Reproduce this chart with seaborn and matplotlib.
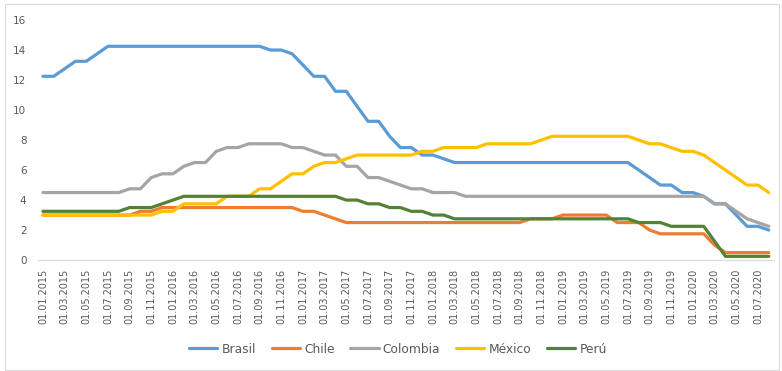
import pandas as pd
import matplotlib
matplotlib.use("Agg")
import matplotlib.pyplot as plt
import seaborn as sns
from matplotlib.patches import Rectangle
from matplotlib.lines import Line2D

# meses (primer día de cada mes)
months = pd.date_range("2015-01-01", "2020-08-01", freq="MS")
month_labels = [d.strftime("%d.%m.%Y") for d in months]

brasil = [12.25, 12.25, 12.75, 13.25, 13.25, 13.75, 14.25, 14.25, 14.25, 14.25, 14.25, 14.25,
          14.25, 14.25, 14.25, 14.25, 14.25, 14.25, 14.25, 14.25, 14.25, 14.0, 14.0, 13.75,
          13.0, 12.25, 12.25, 11.25, 11.25, 10.25, 9.25, 9.25, 8.25, 7.5, 7.5, 7.0,
          7.0, 6.75, 6.5, 6.5, 6.5, 6.5, 6.5, 6.5, 6.5, 6.5, 6.5, 6.5,
          6.5, 6.5, 6.5, 6.5, 6.5, 6.5, 6.5, 6.0, 5.5, 5.0, 5.0, 4.5,
          4.5, 4.25, 3.75, 3.75, 3.0, 2.25, 2.25, 2.0]

chile = [3.0, 3.0, 3.0, 3.0, 3.0, 3.0, 3.0, 3.0, 3.0, 3.25, 3.25, 3.5,
         3.5, 3.5, 3.5, 3.5, 3.5, 3.5, 3.5, 3.5, 3.5, 3.5, 3.5, 3.5,
         3.25, 3.25, 3.0, 2.75, 2.5, 2.5, 2.5, 2.5, 2.5, 2.5, 2.5, 2.5,
         2.5, 2.5, 2.5, 2.5, 2.5, 2.5, 2.5, 2.5, 2.5, 2.75, 2.75, 2.75,
         3.0, 3.0, 3.0, 3.0, 3.0, 2.5, 2.5, 2.5, 2.0, 1.75, 1.75, 1.75,
         1.75, 1.75, 1.0, 0.5, 0.5, 0.5, 0.5, 0.5]

colombia = [4.5, 4.5, 4.5, 4.5, 4.5, 4.5, 4.5, 4.5, 4.75, 4.75, 5.5, 5.75,
            5.75, 6.25, 6.5, 6.5, 7.25, 7.5, 7.5, 7.75, 7.75, 7.75, 7.75, 7.5,
            7.5, 7.25, 7.0, 7.0, 6.25, 6.25, 5.5, 5.5, 5.25, 5.0, 4.75, 4.75,
            4.5, 4.5, 4.5, 4.25, 4.25, 4.25, 4.25, 4.25, 4.25, 4.25, 4.25, 4.25,
            4.25, 4.25, 4.25, 4.25, 4.25, 4.25, 4.25, 4.25, 4.25, 4.25, 4.25, 4.25,
            4.25, 4.25, 3.75, 3.75, 3.25, 2.75, 2.5, 2.25]

mexico = [3.0, 3.0, 3.0, 3.0, 3.0, 3.0, 3.0, 3.0, 3.0, 3.0, 3.0, 3.25,
          3.25, 3.75, 3.75, 3.75, 3.75, 4.25, 4.25, 4.25, 4.75, 4.75, 5.25, 5.75,
          5.75, 6.25, 6.5, 6.5, 6.75, 7.0, 7.0, 7.0, 7.0, 7.0, 7.0, 7.25,
          7.25, 7.5, 7.5, 7.5, 7.5, 7.75, 7.75, 7.75, 7.75, 7.75, 8.0, 8.25,
          8.25, 8.25, 8.25, 8.25, 8.25, 8.25, 8.25, 8.0, 7.75, 7.75, 7.5, 7.25,
          7.25, 7.0, 6.5, 6.0, 5.5, 5.0, 5.0, 4.5]

peru = [3.25, 3.25, 3.25, 3.25, 3.25, 3.25, 3.25, 3.25, 3.5, 3.5, 3.5, 3.75,
        4.0, 4.25, 4.25, 4.25, 4.25, 4.25, 4.25, 4.25, 4.25, 4.25, 4.25, 4.25,
        4.25, 4.25, 4.25, 4.25, 4.0, 4.0, 3.75, 3.75, 3.5, 3.5, 3.25, 3.25,
        3.0, 3.0, 2.75, 2.75, 2.75, 2.75, 2.75, 2.75, 2.75, 2.75, 2.75, 2.75,
        2.75, 2.75, 2.75, 2.75, 2.75, 2.75, 2.75, 2.5, 2.5, 2.5, 2.25, 2.25,
        2.25, 2.25, 1.25, 0.25, 0.25, 0.25, 0.25, 0.25]

countries = ["Brasil", "Chile", "Colombia", "México", "Perú"]
colors = ["#5B9BD5", "#ED7D31", "#A5A5A5", "#FFC000", "#548235"]

# tabla en formato largo para seaborn
series = [brasil, chile, colombia, mexico, peru]
frames = []
for name, vals in zip(countries, series):
    frames.append(pd.DataFrame({"pos": range(len(vals)), "tasa": vals, "pais": name}))
df = pd.concat(frames, ignore_index=True)

sns.set_style("white")
plt.rcParams["font.family"] = ["DejaVu Sans"]

fig = plt.figure(figsize=(7.82, 3.71), dpi=100)
ax = fig.add_axes([0.048, 0.299, 0.942, 0.647])

sns.lineplot(data=df, x="pos", y="tasa", hue="pais", palette=colors,
             hue_order=countries, linewidth=2.3, ax=ax, legend=False)

n = len(months)
ax.set_xlim(-0.5, n - 0.5)
ax.set_ylim(0, 16)
ax.set_yticks(range(0, 17, 2))
ax.set_xticks(range(0, n, 2))
ax.set_xticklabels(month_labels[::2], rotation=90)
ax.set_xticks([i - 0.5 for i in range(0, n + 1, 2)], minor=True)
ax.tick_params(axis="x", which="major", length=0, pad=6, labelsize=7, labelcolor="#595959")
ax.tick_params(axis="x", which="minor", length=4, color="#D9D9D9", width=0.8)
ax.tick_params(axis="y", length=0, pad=8, labelsize=7.5, labelcolor="#595959")
ax.set_xlabel("")
ax.set_ylabel("")
for s in ["top", "right", "left"]:
    ax.spines[s].set_visible(False)
ax.spines["bottom"].set_color("#D9D9D9")
ax.spines["bottom"].set_linewidth(0.8)

handles = [Line2D([0, 1], [0, 0], color=c, linewidth=2.3, marker="None") for c in colors]
ax.legend(handles, countries, loc="center", bbox_to_anchor=(0.509, 0.059),
          bbox_transform=fig.transFigure, ncol=5, frameon=False,
          handlelength=2.3, handletextpad=0.35, columnspacing=1.3,
          fontsize=8.8, labelcolor="#595959")

fig.patches.append(Rectangle((0.006, 0.004), 0.990, 0.986, transform=fig.transFigure,
                             fill=False, edgecolor="#D9D9D9", linewidth=0.8))

fig.savefig("out.png", dpi=100)
